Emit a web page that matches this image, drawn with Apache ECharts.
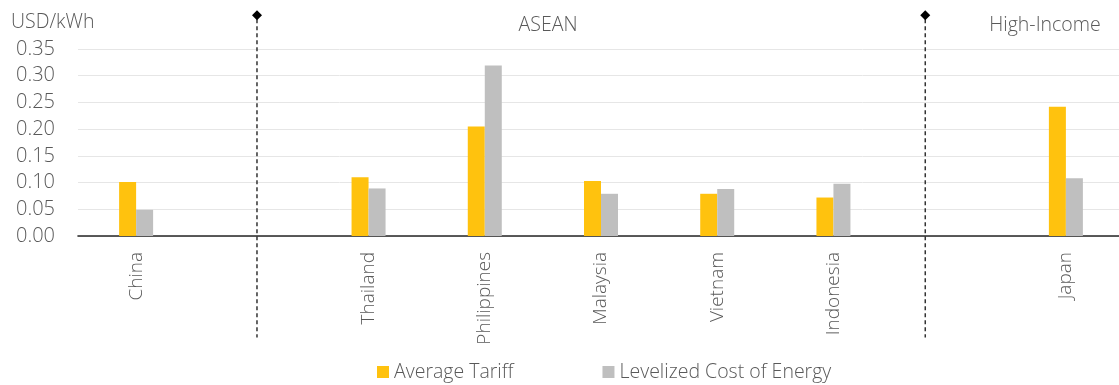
<!DOCTYPE html>
<html>
<head>
<meta charset="utf-8">
<title>Average tariff vs LCOE</title>
<script src="https://cdn.jsdelivr.net/npm/echarts@6/dist/echarts.min.js"></script>
<style>
  html, body { margin: 0; padding: 0; background: #fff; overflow: hidden; }
  /* plot runs a few px past the right window edge, as in the source */
  #chart { width: 1124px; height: 385px; }
</style>
</head>
<body>
<div id="chart"></div>
<script>
// categories ('' = spacer slot between groups)
const countries = ['China', '', 'Thailand', 'Philippines', 'Malaysia', 'Vietnam', 'Indonesia', '', 'Japan'];
const avgTariff = [0.101, null, 0.110, 0.205, 0.103, 0.079, 0.072, null, 0.242];
const lcoe      = [0.049, null, 0.089, 0.319, 0.079, 0.088, 0.098, null, 0.108];
const yTicks = { min: 0, max: 0.35, step: 0.05 };
// group dividers, in category units from the left edge of the plot
const dividerAt = [1.54, 7.29];
const groups = [{ name: 'ASEAN', x: 543 }, { name: 'High-Income', x: 1040 }];

const FONT = '"Open Sans", "Noto Sans", sans-serif';
const GREY_TXT = '#595959';
const YELLOW = '#FFC20E', GREY = '#BFBFBF';
const txt = (size) => ({ fontFamily: FONT, fontWeight: 300, fontSize: size, color: GREY_TXT });

const chart = echarts.init(document.getElementById('chart'));

chart.setOption({
  animation: false,
  textStyle: txt(19),
  title: [
    { text: 'USD/kWh', left: 6, top: 7, textStyle: txt(19.5) },
    ...groups.map(g => ({ text: g.name, left: g.x, top: 10, textAlign: 'center', textStyle: txt(19.5) }))
  ],
  legend: {
    left: 372, top: 357, icon: 'rect', itemWidth: 12, itemHeight: 12, itemGap: 89,
    textStyle: txt(19.5),
    data: ['Average Tariff', 'Levelized Cost of Energy']
  },
  grid: { left: 78, right: 0, top: 49, height: 187 },
  xAxis: [
    {
      type: 'category', data: countries,
      axisLine: { lineStyle: { color: '#262626', width: 1.6 } },
      axisTick: { show: false },
      axisLabel: { rotate: 90, margin: 16, interval: 0, ...txt(19) }
    },
    { type: 'value', min: 0, max: countries.length, show: false }
  ],
  yAxis: {
    type: 'value', min: yTicks.min, max: yTicks.max, interval: yTicks.step,
    axisLine: { show: false }, axisTick: { show: false },
    splitLine: { lineStyle: { color: '#E6E6E6', width: 1 } },
    axisLabel: { margin: 23, ...txt(20), formatter: v => v.toFixed(2) }
  },
  series: [
    { name: 'Average Tariff', type: 'bar', data: avgTariff, barWidth: 17, barGap: '0%', itemStyle: { color: YELLOW } },
    { name: 'Levelized Cost of Energy', type: 'bar', data: lcoe, barWidth: 17, barGap: '0%', itemStyle: { color: GREY } },
    {
      type: 'custom', xAxisIndex: 1, yAxisIndex: 0, clip: false, silent: true,
      data: dividerAt.map(x => [x]),
      renderItem: (params, api) => {
        const top = api.coord([api.value(0), 0.413]);
        const bot = api.coord([api.value(0), -0.19]);
        const r = 5;
        return {
          type: 'group',
          children: [
            { type: 'line', shape: { x1: top[0], y1: top[1] + 4, x2: bot[0], y2: bot[1] },
              style: { stroke: '#333', lineWidth: 1.5, lineDash: [4, 3] } },
            { type: 'polygon', shape: { points: [[top[0], top[1] - r], [top[0] + r, top[1]], [top[0], top[1] + r], [top[0] - r, top[1]]] },
              style: { fill: '#000' } }
          ]
        };
      }
    }
  ]
});
</script>
</body>
</html>
